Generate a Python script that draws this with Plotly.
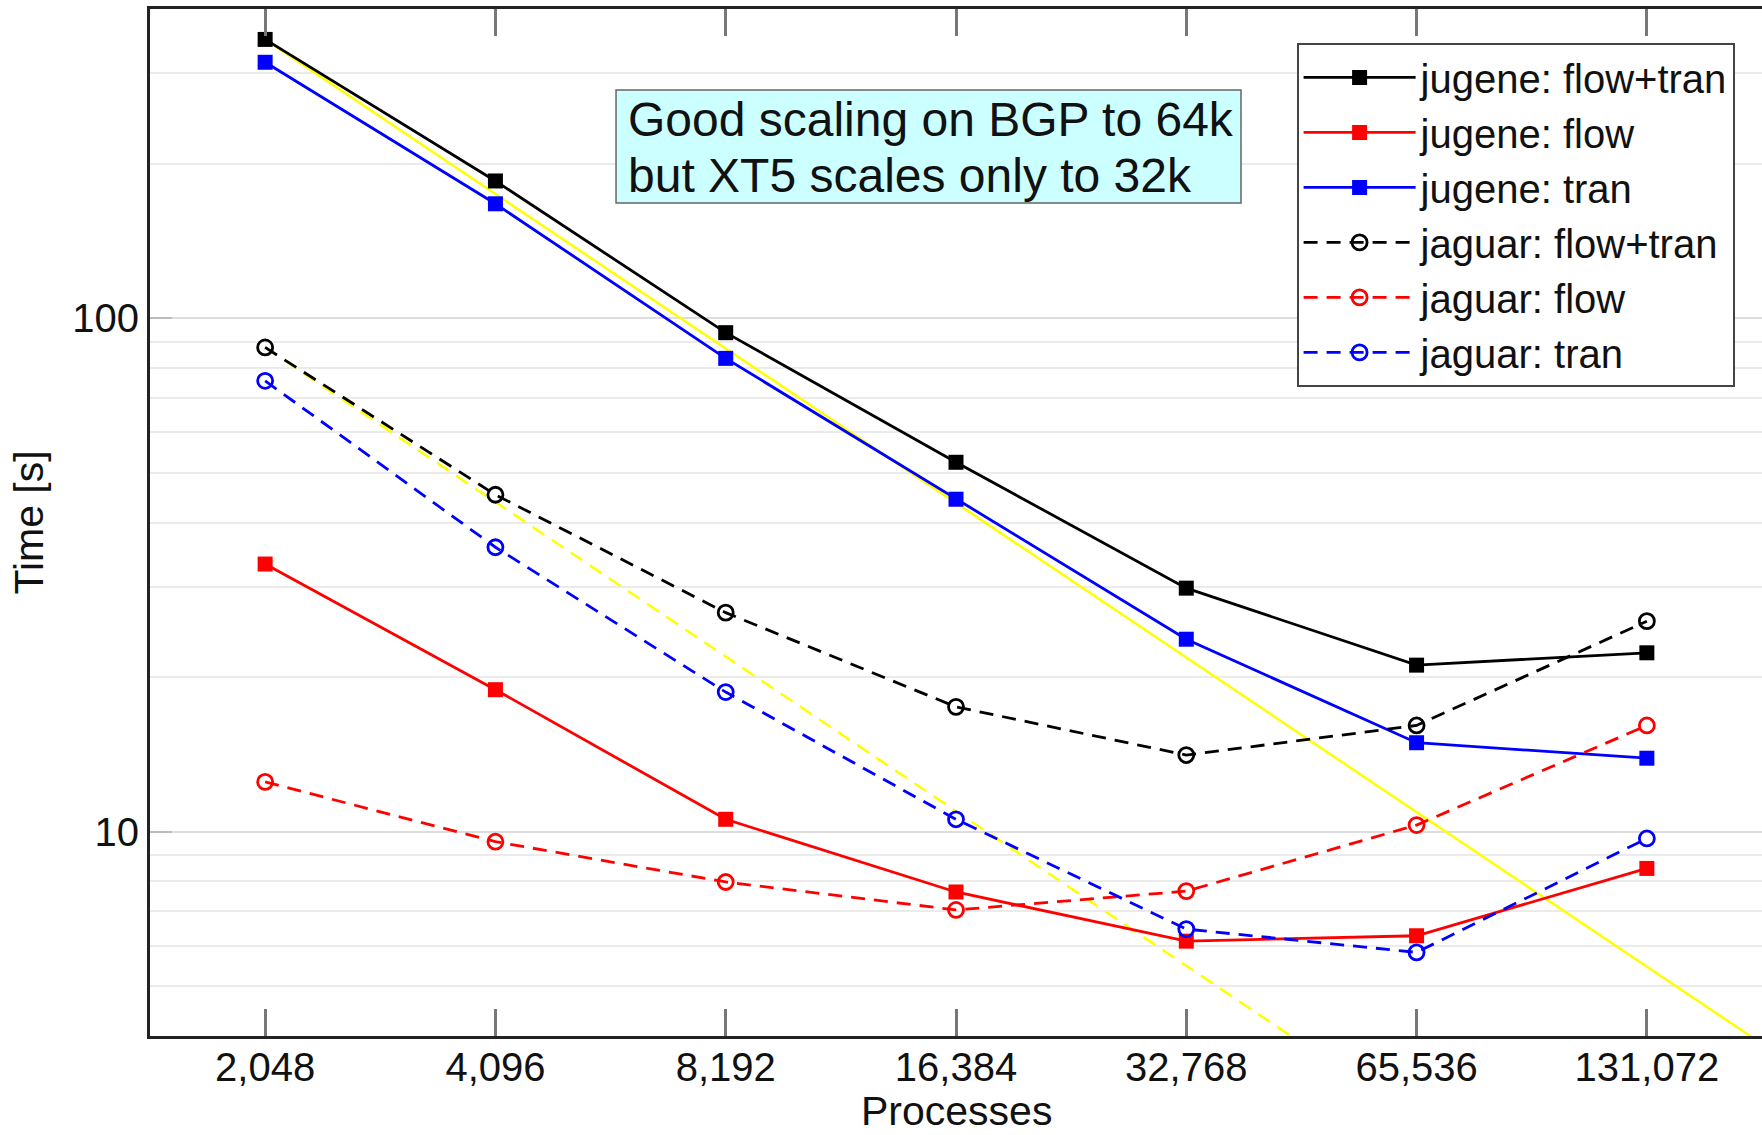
import numpy as np
import plotly.graph_objects as go

# ---- data ----
processes = [2048, 4096, 8192, 16384, 32768, 65536, 131072]
tick_labels = ["2,048", "4,096", "8,192", "16,384", "32,768", "65,536", "131,072"]

jugene_flow_tran = [349, 185, 93.7, 52.4, 29.8, 21.1, 22.3]
jugene_flow = [33.2, 18.9, 10.57, 7.63, 6.12, 6.27, 8.48]
jugene_tran = [315, 167, 83.5, 44.4, 23.7, 14.9, 13.9]
jaguar_flow_tran = [87.7, 45.3, 26.7, 17.5, 14.1, 16.1, 25.7]
jaguar_flow = [12.5, 9.56, 7.98, 7.04, 7.66, 10.3, 16.1]
jaguar_tran = [75.5, 35.8, 18.7, 10.57, 6.46, 5.82, 9.70]

# ideal-scaling reference lines (start / end points)
ideal_x = [2048, 262144]
ideal_jugene = [349, 2.73]
ideal_jaguar = [87.7, 0.685]

y_major = [10, 100]
y_minor = [5, 6, 7, 8, 9, 20, 30, 40, 50, 60, 70, 80, 90, 200, 300]

note_lines = ["Good scaling on BGP to 64k", "but XT5 scales only to 32k"]
x_title = "Processes"
y_title = "Time [s]"

FONT = "Liberation Sans, Arial, Helvetica, sans-serif"
DASH = "14px,9px"

fig = go.Figure()

fig.add_trace(go.Scatter(x=ideal_x, y=ideal_jugene, mode="lines",
                         line=dict(color="#ffff00", width=2.5),
                         showlegend=False, hoverinfo="skip"))
fig.add_trace(go.Scatter(x=ideal_x, y=ideal_jaguar, mode="lines",
                         line=dict(color="#ffff00", width=2.5, dash=DASH),
                         showlegend=False, hoverinfo="skip"))

def solid(name, y, color):
    fig.add_trace(go.Scatter(
        x=processes, y=y, name=name, mode="lines+markers",
        line=dict(color=color, width=2.8),
        marker=dict(symbol="square", size=15, color=color)))

def dashed(name, y, color):
    fig.add_trace(go.Scatter(
        x=processes, y=y, name=name, mode="lines+markers",
        line=dict(color=color, width=2.8, dash=DASH),
        marker=dict(symbol="circle-open", size=15, color=color,
                    line=dict(width=2.8, color=color))))

solid("jugene: flow+tran", jugene_flow_tran, "#000000")
solid("jugene: flow", jugene_flow, "#ff0000")
solid("jugene: tran", jugene_tran, "#0000ff")
dashed("jaguar: flow+tran", jaguar_flow_tran, "#000000")
dashed("jaguar: flow", jaguar_flow, "#ff0000")
dashed("jaguar: tran", jaguar_tran, "#0000ff")

x_lo = np.log10(processes[0] / np.sqrt(2))
x_hi = np.log10(processes[-1] * np.sqrt(2))

# note box (paper coordinates)
box_x0, box_x1, box_y0, box_y1 = 0.2891, 0.6768, 0.8111, 0.9211

fig.update_layout(
    width=1762, height=1135,
    margin=dict(l=150, r=0, t=9, b=99),
    paper_bgcolor="white", plot_bgcolor="white",
    font=dict(family=FONT, size=40, color="#111111"),
    xaxis=dict(
        type="log", range=[x_lo, x_hi], automargin=False,
        tickvals=processes, ticktext=tick_labels,
        ticks="inside", ticklen=27, tickwidth=3, tickcolor="#777777",
        ticklabelstandoff=-6,
        showline=True, linecolor="#222222", linewidth=3, mirror="ticks",
        showgrid=False, zeroline=False,
        tickfont=dict(size=40),
    ),
    yaxis=dict(
        type="log", range=[np.log10(4), np.log10(400)], automargin=False,
        tickvals=y_major, ticktext=["10", "100"],
        ticks="inside", ticklen=22, tickwidth=2, tickcolor="#bbbbbb",
        showline=True, linecolor="#222222", linewidth=3, mirror=False,
        showgrid=True, gridcolor="#dddddd", gridwidth=2,
        minor=dict(tickvals=y_minor, showgrid=True, gridcolor="#ebebeb",
                   gridwidth=2, ticks=""),
        zeroline=False,
        title=dict(text=y_title, font=dict(size=41), standoff=16),
        tickfont=dict(size=40),
    ),
    legend=dict(
        x=0.983, y=0.967, xanchor="right", yanchor="top",
        bgcolor="white", bordercolor="#444444", borderwidth=2,
        font=dict(size=40, color="#111111"),
        itemwidth=112, tracegroupgap=0,
    ),
    shapes=[dict(
        type="rect", xref="paper", yref="paper",
        x0=box_x0, x1=box_x1, y0=box_y0, y1=box_y1,
        fillcolor="#ccffff", line=dict(color="#666666", width=1.5),
        layer="above",
    )],
    annotations=[
        dict(text=note_lines[0], xref="paper", yref="paper",
             x=0.2955, y=0.8925, xanchor="left", yanchor="middle",
             align="left", showarrow=False,
             font=dict(size=48, color="#111111", family=FONT)),
        dict(text=note_lines[1], xref="paper", yref="paper",
             x=0.2955, y=0.8380, xanchor="left", yanchor="middle",
             align="left", showarrow=False,
             font=dict(size=48, color="#111111", family=FONT)),
        dict(text=x_title, xref="paper", yref="paper",
             x=0.5, y=-0.0735, xanchor="center", yanchor="middle",
             showarrow=False, font=dict(size=41, color="#111111", family=FONT)),
    ],
    showlegend=True,
)

fig.write_html("out.html")
